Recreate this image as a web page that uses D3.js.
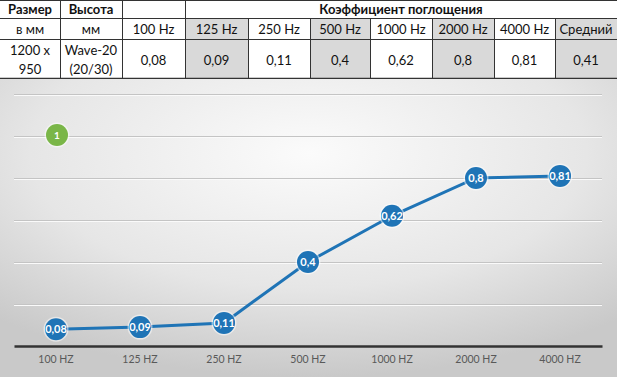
<!DOCTYPE html>
<html><head><meta charset="utf-8">
<script src="https://cdn.jsdelivr.net/npm/d3@7"></script>
<style>
html,body{margin:0;padding:0;background:#fff;}
svg{display:block;}
</style></head>
<body>
<svg id="c" width="617" height="377"></svg>
<script>
const categories = ["100 HZ","125 HZ","250 HZ","500 HZ","1000 HZ","2000 HZ","4000 HZ"];
const values = [0.08,0.09,0.11,0.4,0.62,0.8,0.81];
const valueLabels = ["0,08","0,09","0,11","0,4","0,62","0,8","0,81"];
const tableFreqs = ["100 Hz","125 Hz","250 Hz","500 Hz","1000 Hz","2000 Hz","4000 Hz","Средний"];
const tableValues = ["0,08","0,09","0,11","0,4","0,62","0,8","0,81","0,41"];
const yTicks = [0,0.2,0.4,0.6,0.8,1.0,1.2];

const svg = d3.select("#c");
const W = 617, H = 377;
const font = "Lato, 'Open Sans', sans-serif";

// ---------- Table ----------
const colX = [0,60,122,185,248,310,370,432,494,555,617];
const rowY = [0,18,39,78];
const shaded = [4,6,8,10]; // column indexes (1-based cells of colX pairs) -> 125,500,2000,Средний
const tg = svg.append("g");
// shading rows 2 and 3
[3,5,7,9].forEach(ci=>{
  tg.append("rect").attr("x",colX[ci]).attr("y",rowY[1]).attr("width",colX[ci+1]-colX[ci]).attr("height",rowY[3]-rowY[1]).attr("fill","#d9d9d9");
});
// horizontal lines
rowY.forEach((y,i)=>{
  tg.append("line").attr("x1",0).attr("x2",W).attr("y1",y+0.5).attr("y2",y+0.5).attr("stroke","#333").attr("stroke-width",i===3?1.5:1);
});
// vertical lines
colX.forEach((x,i)=>{
  if(i===0||i===colX.length-1) return;
  const y1 = (i>3) ? rowY[1] : rowY[0];
  tg.append("line").attr("x1",x+0.5).attr("x2",x+0.5).attr("y1",y1).attr("y2",rowY[3]).attr("stroke","#333").attr("stroke-width",1);
});
function cellText(x,y,t,bold){
  tg.append("text").attr("x",x).attr("y",y).attr("text-anchor","middle")
    .attr("font-family",font).attr("font-size",13).attr("font-weight",bold?"bold":"normal")
    .attr("fill","#111").text(t);
}
cellText(30,14,"Размер",true);
cellText(91,14,"Высота",true);
cellText((185+617)/2,14,"Коэффициент поглощения",true);
cellText(30,34,"в мм",false);
cellText(91,34,"мм",false);
tableFreqs.forEach((f,i)=>cellText((colX[i+2]+colX[i+3])/2,34,f,false));
cellText(30,55,"1200 x",false);
cellText(30,74,"950",false);
cellText(91,55,"Wave-20",false);
cellText(91,74,"(20/30)",false);
tableValues.forEach((v,i)=>cellText((colX[i+2]+colX[i+3])/2,65,v,false));

// ---------- Chart background ----------
const defs = svg.append("defs");
const rg = defs.append("radialGradient").attr("id","bg").attr("cx","50%").attr("cy","25%").attr("r","75%");
rg.append("stop").attr("offset","0%").attr("stop-color","#fbfbfb");
rg.append("stop").attr("offset","60%").attr("stop-color","#e6e6e6");
rg.append("stop").attr("offset","100%").attr("stop-color","#c9c9c9");
svg.append("rect").attr("x",0).attr("y",79).attr("width",W).attr("height",H-79).attr("fill","url(#bg)");

// ---------- Scales ----------
const x = d3.scaleBand().domain(categories).range([14,602]).padding(0);
const y = d3.scaleLinear().domain([0,1.2]).range([346,94]);

// gridlines
const grid = svg.append("g");
grid.selectAll("line").data(yTicks.filter(d=>d>0)).join("line")
  .attr("x1",14).attr("x2",602)
  .attr("y1",d=>Math.round(y(d))+0.5).attr("y2",d=>Math.round(y(d))+0.5)
  .attr("stroke","#c4c4c4").attr("stroke-width",1);
grid.selectAll("line.hl").data(yTicks.filter(d=>d>0)).join("line").attr("class","hl")
  .attr("x1",14).attr("x2",602)
  .attr("y1",d=>Math.round(y(d))+1.5).attr("y2",d=>Math.round(y(d))+1.5)
  .attr("stroke","#fafafa").attr("stroke-width",1);

// x axis
const xAxis = d3.axisBottom(x).tickSize(0).tickPadding(10);
const ax = svg.append("g").attr("transform",`translate(0,${y(0)})`).call(xAxis);
ax.select(".domain").attr("stroke","#333").attr("stroke-width",2.5);
ax.selectAll("text").attr("font-family",font).attr("font-size",10.5).attr("fill","#595959");

// line
const cx = d=>x(d)+x.bandwidth()/2;
const line = d3.line().x((d,i)=>cx(categories[i])).y(d=>y(d));
svg.append("path").datum(values).attr("d",line).attr("fill","none")
  .attr("stroke","#1f74b6").attr("stroke-width",3);

// points
const pts = svg.append("g");
pts.selectAll("circle.halo").data(values).join("circle").attr("class","halo")
  .attr("cx",(d,i)=>cx(categories[i])).attr("cy",d=>y(d)).attr("r",12.5)
  .attr("fill","#ffffff").attr("opacity",0.5);
pts.selectAll("circle.pt").data(values).join("circle").attr("class","pt")
  .attr("cx",(d,i)=>cx(categories[i])).attr("cy",d=>y(d)).attr("r",11)
  .attr("fill","#1f74b6");
pts.selectAll("text").data(values).join("text")
  .attr("x",(d,i)=>cx(categories[i])).attr("y",d=>y(d)+4)
  .attr("text-anchor","middle").attr("font-family",font).attr("font-size",11)
  .attr("font-weight","bold").attr("fill","#fff").text((d,i)=>valueLabels[i]);

// green badge
svg.append("circle").attr("cx",57).attr("cy",135).attr("r",12.5).attr("fill","#fff").attr("opacity",0.5);
svg.append("circle").attr("cx",57).attr("cy",135).attr("r",11).attr("fill","#7ab648");
svg.append("text").attr("x",57).attr("y",139).attr("text-anchor","middle")
  .attr("font-family",font).attr("font-size",10).attr("font-weight","bold").attr("fill","#fff").text("1");
</script>
</body></html>
